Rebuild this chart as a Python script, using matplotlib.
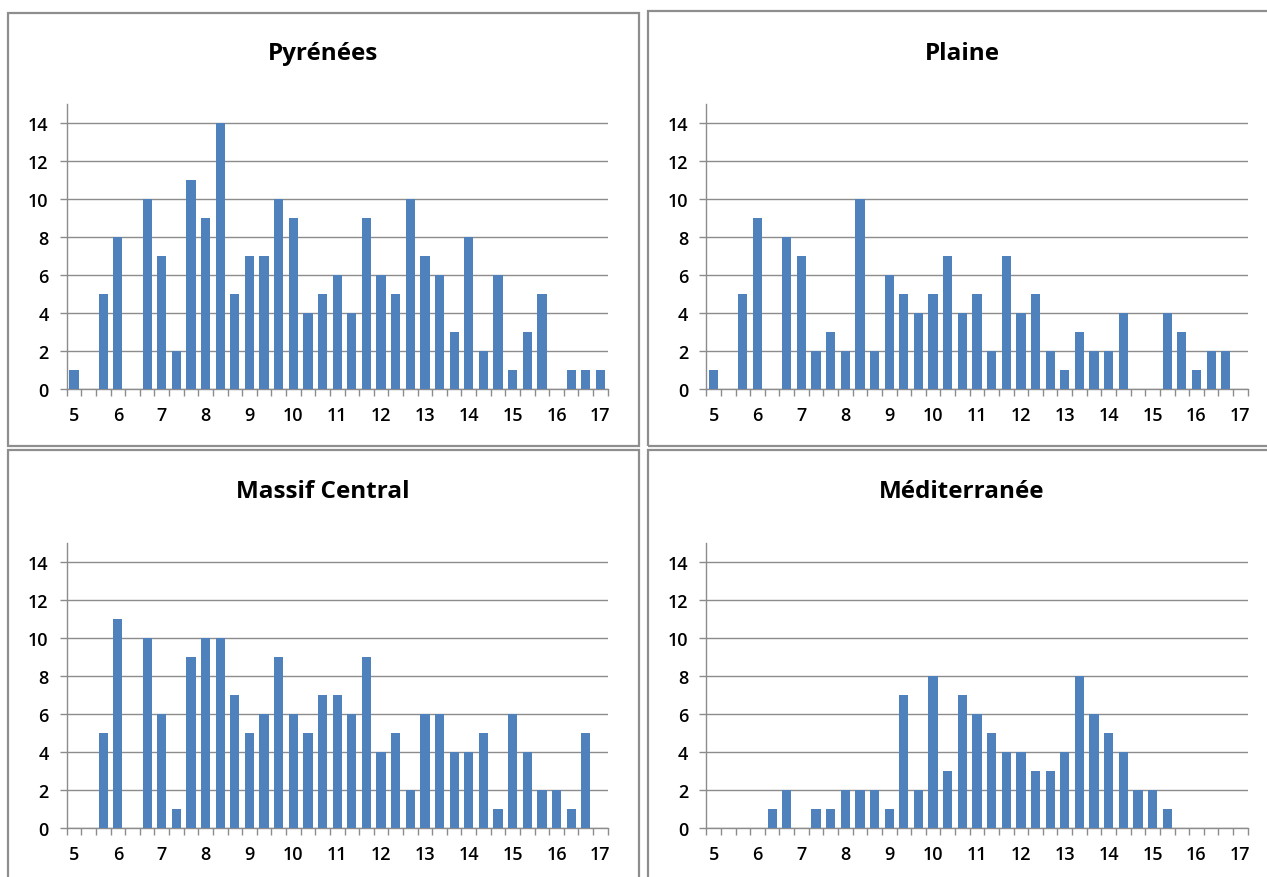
import numpy as np
import matplotlib
matplotlib.use("Agg")
import matplotlib.pyplot as plt
from matplotlib.patches import Rectangle

plt.rcParams['font.family'] = ['Open Sans', 'DejaVu Sans']

# data: 37 classes, 3 per unit from 5 to 17
tick_labels = ["5", "6", "7", "8", "9", "10", "11", "12", "13", "14", "15", "16", "17"]

pyrenees = [1, 0, 5, 8, 0, 10, 7, 2, 11, 9, 14, 5, 7, 7, 10, 9, 4, 5, 6, 4, 9,
            6, 5, 10, 7, 6, 3, 8, 2, 6, 1, 3, 5, 0, 1, 1, 1]
plaine = [1, 0, 5, 9, 0, 8, 7, 2, 3, 2, 10, 2, 6, 5, 4, 5, 7, 4, 5, 2, 7,
          4, 5, 2, 1, 3, 2, 2, 4, 0, 0, 4, 3, 1, 2, 2, 0]
massif = [0, 0, 5, 11, 0, 10, 6, 1, 9, 10, 10, 7, 5, 6, 9, 6, 5, 7, 7, 6, 9,
          4, 5, 2, 6, 6, 4, 4, 5, 1, 6, 4, 2, 2, 1, 5, 0]
mediterranee = [0, 0, 0, 0, 1, 2, 0, 1, 1, 2, 2, 2, 1, 7, 2, 8, 3, 7, 6, 5, 4,
                4, 3, 3, 4, 8, 6, 5, 4, 2, 2, 1, 0, 0, 0, 0, 0]

titles = ["Pyrénées", "Plaine", "Massif Central", "Méditerranée"]
series = [pyrenees, plaine, massif, mediterranee]

W, H = 1267, 878
fig = plt.figure(figsize=(W / 100, H / 100), dpi=100)

bar_color = "#4F81BD"
grid_color = "#8C8C8C"
frame_color = "#8E8E8E"

# panel frames (px): left, top, right, bottom
frames = [(8, 14, 639, 447), (648, 12, 1280, 447),
          (8, 451, 639, 890), (648, 451, 1280, 890)]
# plot areas (px): left, top(y=15), right, bottom(y=0)
areas = [(66.7, 105, 607.7, 390), (706.3, 105, 1247.7, 390),
         (66.7, 544, 607.7, 829.3), (706.3, 544, 1247.7, 829.3)]
title_pos = [(323, 54), (962, 54), (323, 492), (962, 492)]

for (l, t, r, b) in frames:
    fig.add_artist(Rectangle((l / W, 1 - b / H), (r - l) / W, (b - t) / H,
                             transform=fig.transFigure, fill=False,
                             edgecolor=frame_color, linewidth=1.6))

x = np.arange(len(pyrenees))
for i, vals in enumerate(series):
    l, t, r, b = areas[i]
    ax = fig.add_axes([l / W, 1 - b / H, (r - l) / W, (b - t) / H])
    ax.bar(x, vals, width=0.63, color=bar_color, zorder=3)
    ax.set_xlim(-0.5, len(x) - 0.5)
    ax.set_ylim(0, 15)
    ax.set_yticks(range(0, 15, 2))
    ax.set_xticks(x[::3])
    ax.set_xticklabels(tick_labels)
    ax.set_xticks(np.arange(len(x) + 1) - 0.5, minor=True)
    ax.tick_params(axis="x", which="major", length=0, pad=12, labelsize=13)
    ax.tick_params(axis="x", which="minor", length=5, color=grid_color, width=1)
    ax.tick_params(axis="y", length=5, color=grid_color, width=1, pad=8,
                   labelsize=13)
    for lab in ax.get_xticklabels() + ax.get_yticklabels():
        lab.set_fontweight("semibold")
    ax.yaxis.grid(True, color=grid_color, linewidth=1, zorder=0)
    for s in ["top", "right"]:
        ax.spines[s].set_visible(False)
    for s in ["left", "bottom"]:
        ax.spines[s].set_color(grid_color)
        ax.spines[s].set_linewidth(1)
    ax.set_facecolor("none")
    tx, ty = title_pos[i]
    fig.text(tx / W, 1 - ty / H, titles[i], ha="center", va="center",
             fontsize=17.5, fontweight="bold")

fig.savefig("out.png", dpi=100)
